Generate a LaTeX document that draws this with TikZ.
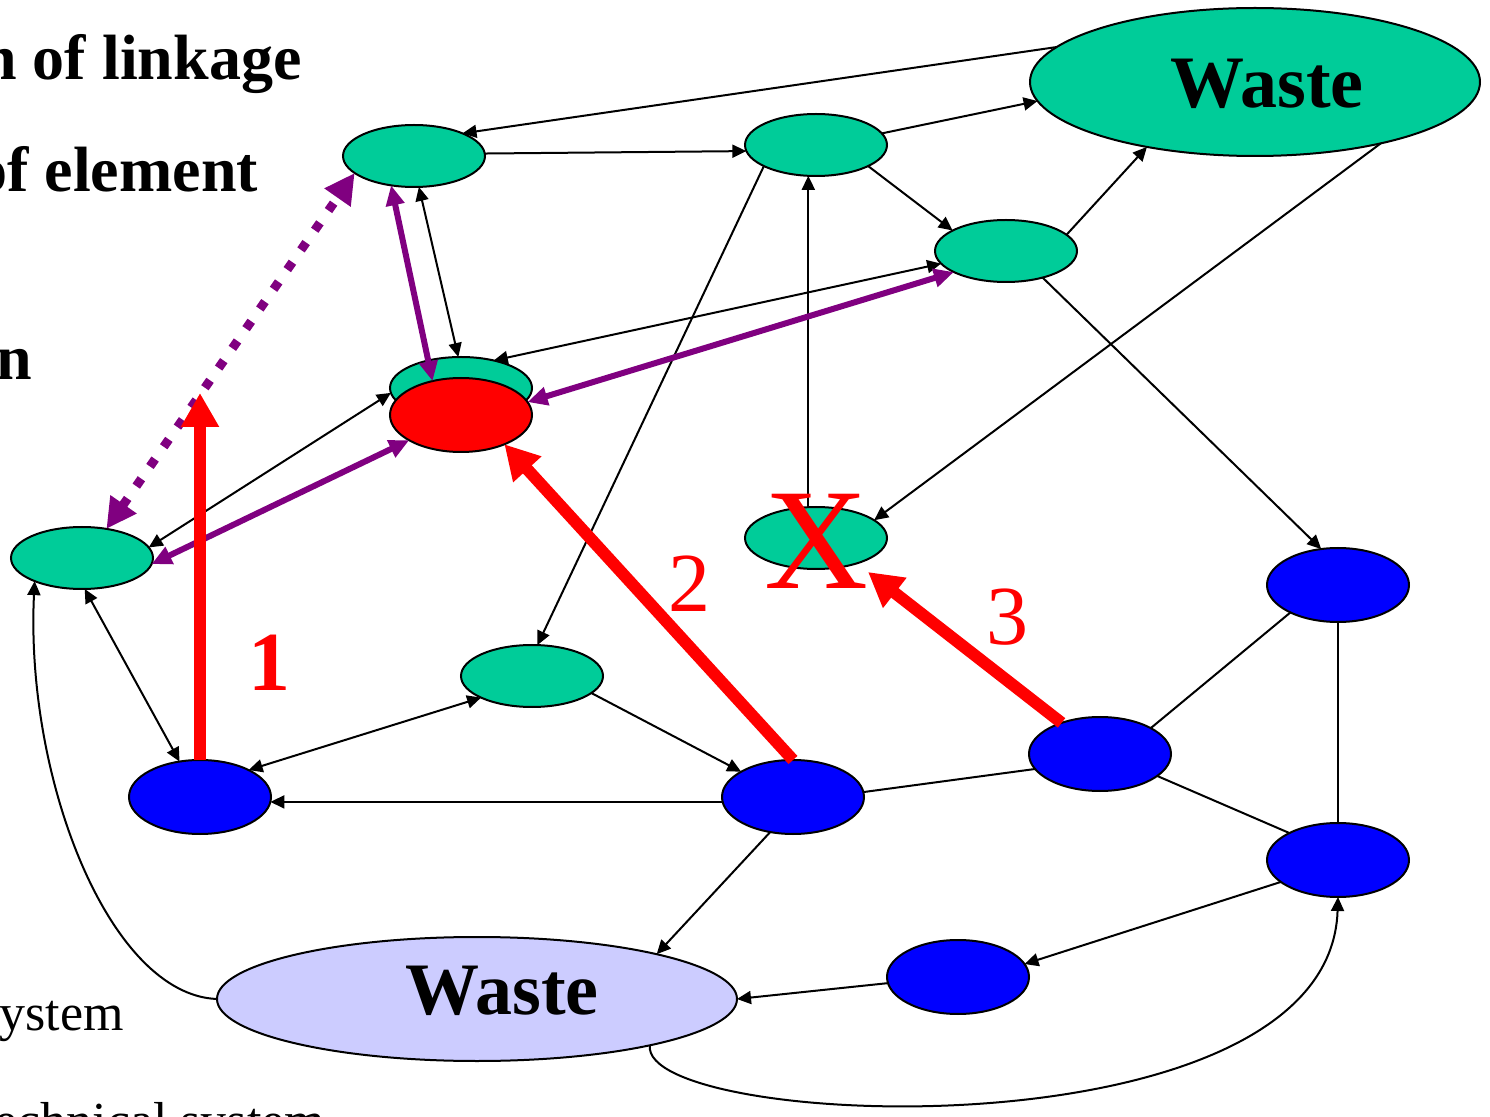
\documentclass[tikz,border=0pt]{standalone}
\usepackage{fontspec}
\setmainfont{Liberation Serif}
\usetikzlibrary{arrows.meta,shapes.geometric}
\definecolor{grn}{HTML}{00CC99}
\definecolor{blu}{HTML}{0000FF}
\definecolor{rd}{HTML}{FF0000}
\definecolor{pur}{HTML}{800080}
\definecolor{lav}{HTML}{CCCCFF}
\begin{document}
\begin{tikzpicture}[x=0.5pt,y=-0.5pt,
  ell/.style={ellipse, draw=black, line width=1pt, inner sep=0pt, outer sep=0pt},
  gnode/.style={ell, fill=grn, minimum width=71pt, minimum height=31pt},
  bnode/.style={ell, fill=blu, minimum width=71pt, minimum height=37pt},
  rnode/.style={ell, fill=rd, minimum width=71pt, minimum height=37pt},
  blk/.style={line width=1pt, -{Triangle[length=7pt,width=6.5pt]}},
  blk2/.style={line width=1pt, {Triangle[length=7pt,width=6.5pt]}-{Triangle[length=7pt,width=6.5pt]}},
  lnk/.style={line width=1pt},
  pur2/.style={draw=pur, line width=3pt, {Triangle[length=10pt,width=9pt]}-{Triangle[length=10pt,width=9pt]}},
  purdot/.style={draw=pur, line width=4.5pt, dash pattern=on 4.5pt off 7.5pt, {Triangle[length=15pt,width=15pt]}-{Triangle[length=15pt,width=15pt]}},
  redarr/.style={draw=rd, line width=6pt, -{Triangle[length=17pt,width=18pt]}},
  wastetxt/.style={inner sep=0pt, font=\fontsize{37}{40}\selectfont\bfseries},
  redlbl/.style={inner sep=0pt, text=rd, font=\fontsize{42}{44}\selectfont},
  side/.style={anchor=base west, inner sep=0pt, font=\fontsize{32}{36}\selectfont\bfseries},
  sidereg/.style={anchor=base west, inner sep=0pt, font=\fontsize{26}{30}\selectfont}
]
\fill[white] (0,0) rectangle (1490,1117);
\useasboundingbox (0,0) rectangle (1490,1117);

% side texts (cut off at the left edge)
\node[side] (t1) at (-19,80) {n of linkage};
\node[side] (t2) at (-25,192) {of element};
\node[side] (t3) at (-4,380) {n};
\node[sidereg] (t4) at (-1,1030) {ystem};
\node[sidereg] (t5) at (-6,1138) {echnical system};

% nodes
\node[ell, fill=grn, minimum width=225pt, minimum height=74pt] (WT) at (1255,82) {};
\node[wastetxt] (WTt) at (1267,84) {Waste};
\node[gnode] (G1) at (414,156) {};
\node[gnode] (G2) at (816,145) {};
\node[gnode] (G3) at (1006,251) {};
\node[gnode] (GR) at (461,388) {};
\node[rnode] (RD) at (461,415) {};
\node[gnode] (GL) at (82,558) {};
\node[gnode] (GX) at (816,538) {};
\node[gnode] (GM) at (532,676) {};
\node[bnode] (B1) at (200,797) {};
\node[bnode] (B2) at (793,797) {};
\node[bnode] (B3) at (1100,754) {};
\node[bnode] (B4) at (1338,585) {};
\node[bnode] (B5) at (1338,860) {};
\node[bnode] (B6) at (958,977) {};
\node[ell, fill=lav, minimum width=260pt, minimum height=62pt] (WB) at (477,999) {};
\node[wastetxt] (WBt) at (502,991) {Waste};

% black connectors
\draw[blk] (WT.170.6) -- (G1.25.6);
\draw[blk] (G1.2) -- (G2.185);
\draw[blk] (G2.10) -- (WT.185);
\draw[blk] (G2.-22) -- (G3.159);
\draw[blk] (G3.15) -- (WT.211);
\draw[blk] (G3.-36) -- (B4.115);
\draw[blk] (WT.-26.6) -- (GX.17);
\draw[blk] (GX.104) -- (G2.256);
\draw[blk2] (G1.279) -- (GR.95);
\draw[blk2] (G3.191.6) -- (GR.40);
\draw[blk2] (GL.9.6) -- (GR.184);
\draw[blk2] (GL.275) -- (B1.120.7);
\draw[blk] (WB.west) .. controls (110,995) and (25,780) .. (GL.206);
\draw[blk2] (GM.203) -- (B1.29.4);
\draw[blk] (GM.-16.3) -- (B2.154);
\draw[blk] (B2.184) -- (B1.-4);
\draw[blk] (G2.202) -- (GM.80);
\draw[blk] (B2.237) -- (WB.14);
\draw[lnk] (B2.4) -- (B3.193);
\draw[lnk] (B3.27.5) -- (B4.210);
\draw[lnk] (B3.-21) -- (B5.151.6);
\draw[lnk] (B4.south) -- (B5.north);
\draw[blk] (B5.201.5) -- (B6.11.8);
\draw[blk] (B6.185) -- (WB.east);
\draw[blk] (WB.-15.8) .. controls (640,1130) and (1330,1160) .. (B5.south);

% purple connectors
\draw[pur2] (G3.202) -- (RD.11);
\draw[pur2] (GL.-5.5) -- (RD.206);
\draw[pur2] (G1.232.6) -- (RD.130.5);
\draw[purdot] (GL.50.6) -- (G1.196.6);

% red arrows
\coordinate (r1tip) at (200,393);
\coordinate (r3tip) at (868,572);
\draw[redarr] (B1.north) -- (r1tip);
\draw[redarr] (B2.north) -- (RD.-34);
\draw[redarr] (B3.141) -- (r3tip);

% red labels
\node[redlbl, font=\fontsize{42}{44}\selectfont\bfseries] (n1) at (269,663) {1};
\node[redlbl] (n2) at (689,584) {2};
\node[redlbl] (n3) at (1007,617) {3};
\node[redlbl, font=\fontsize{72}{76}\selectfont] (nx) at (816,541) {X};
\end{tikzpicture}
\end{document}
